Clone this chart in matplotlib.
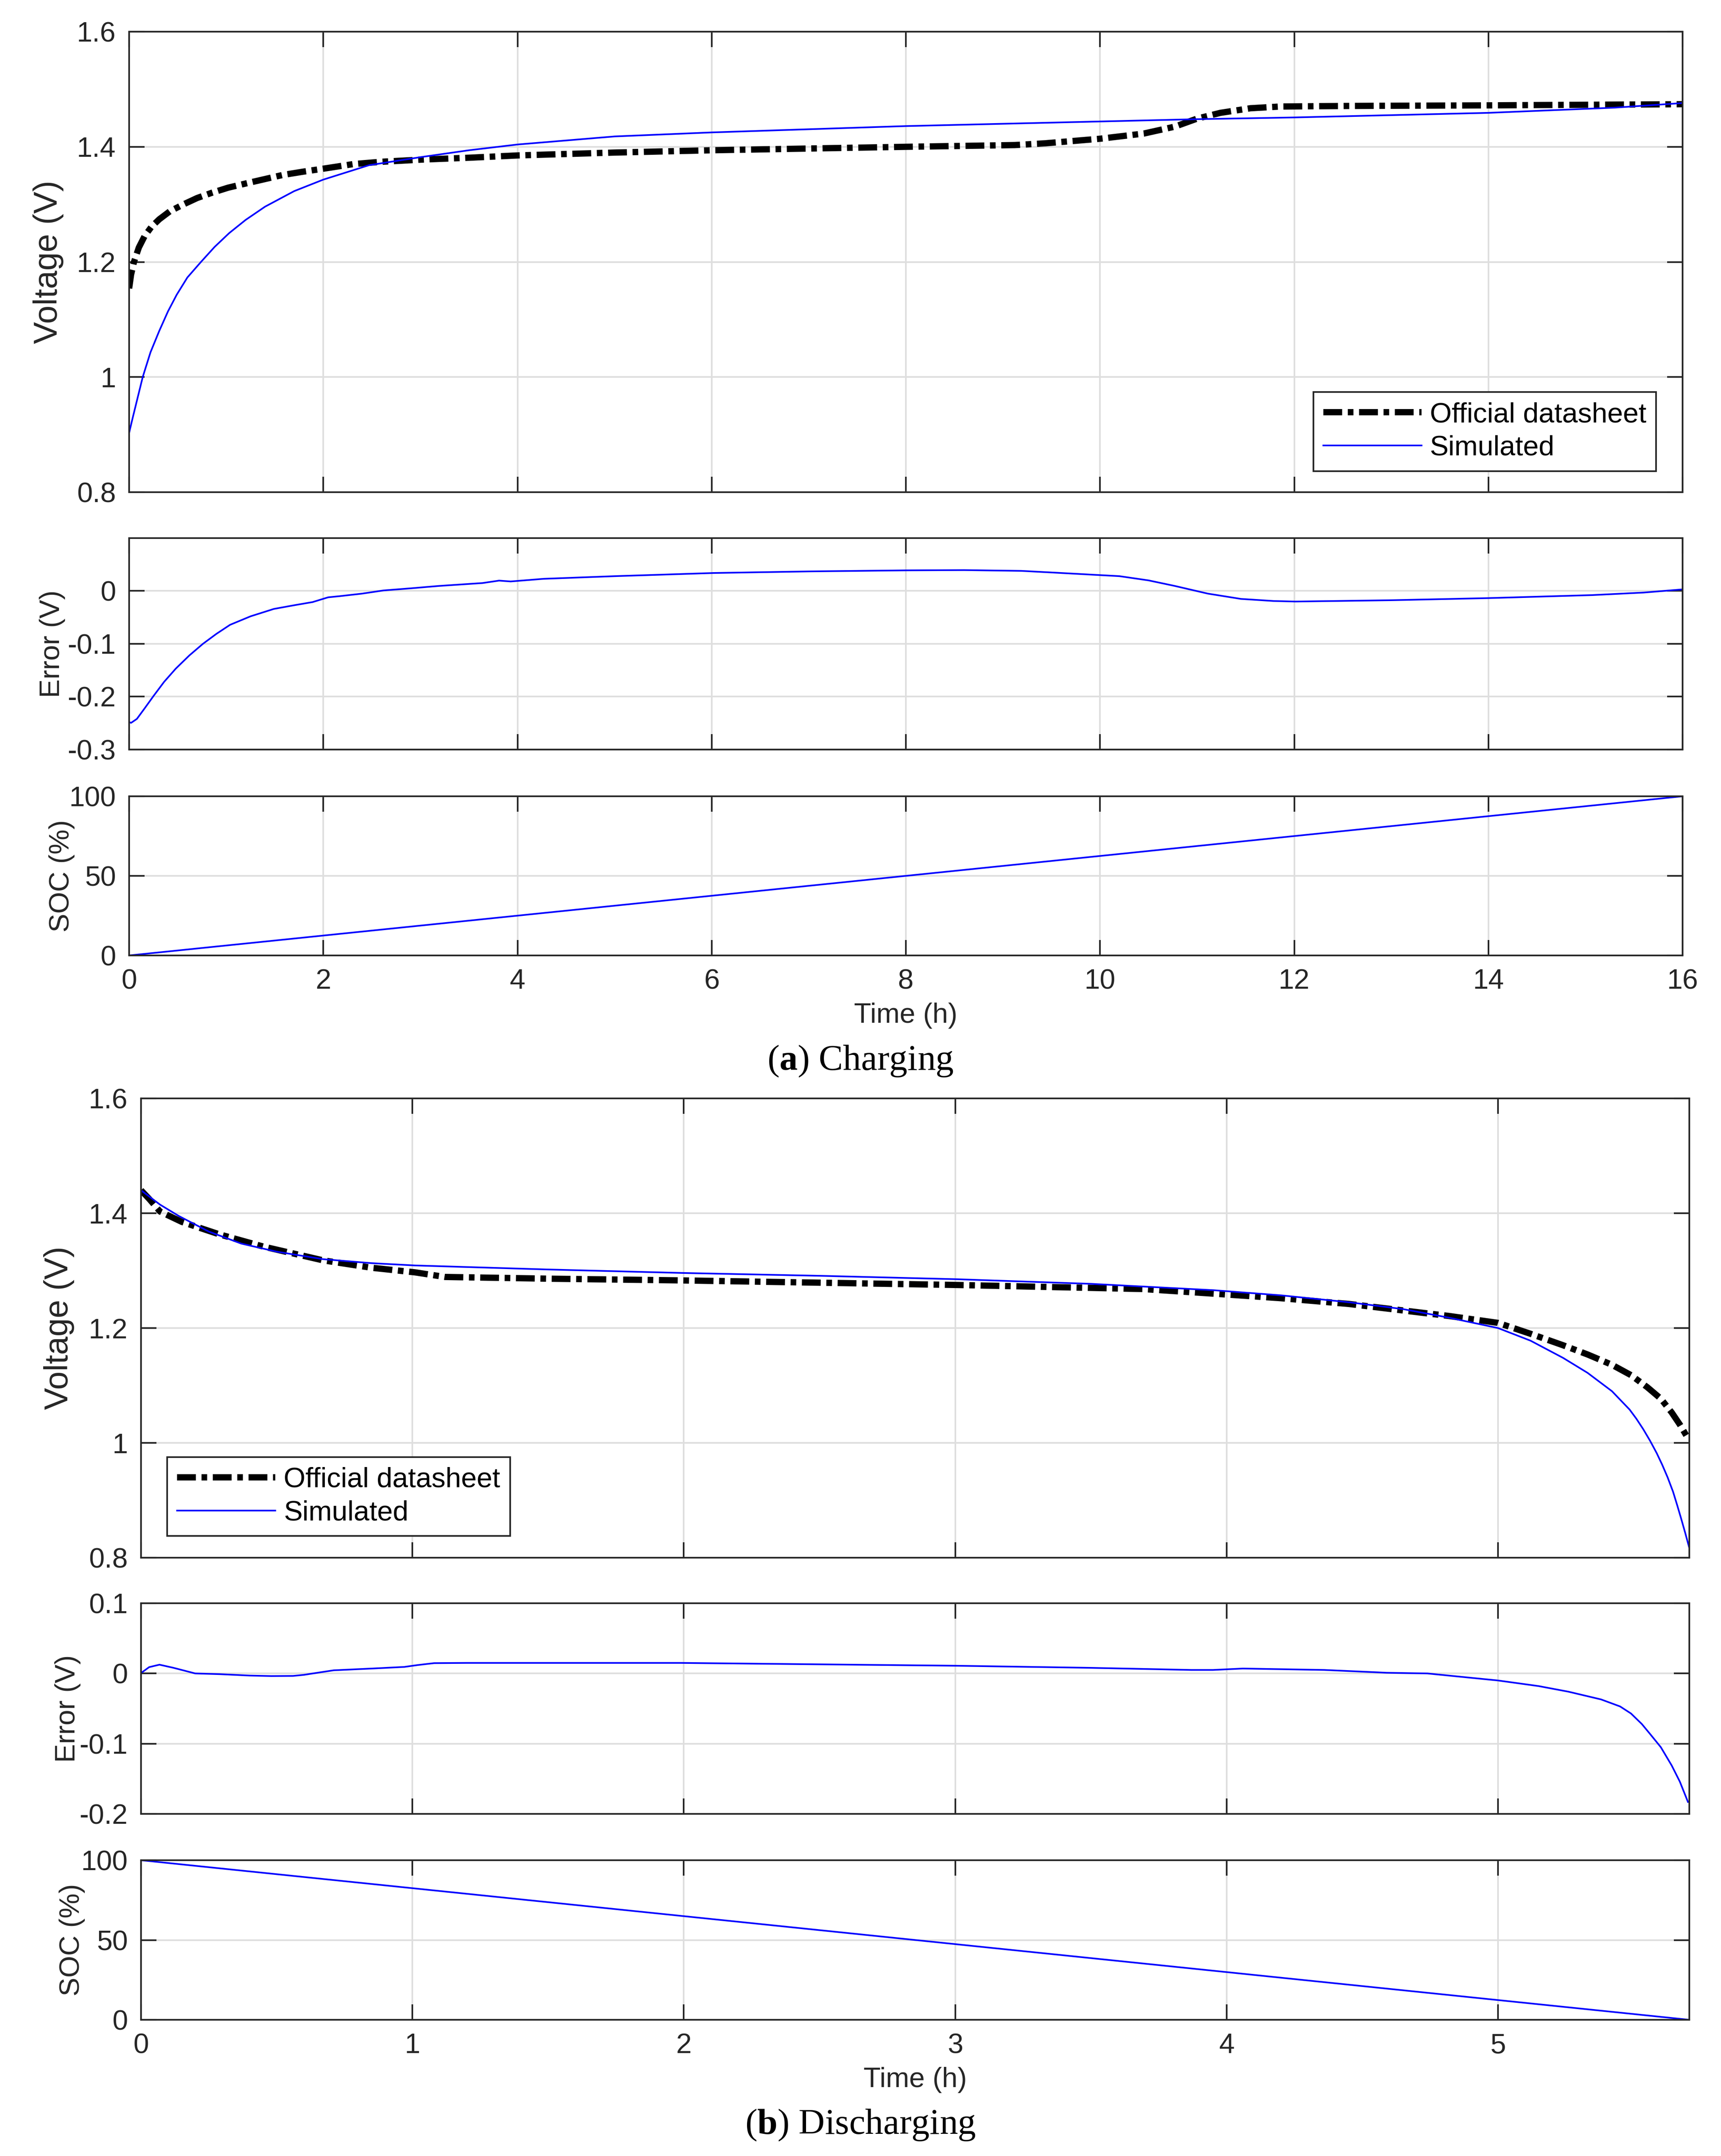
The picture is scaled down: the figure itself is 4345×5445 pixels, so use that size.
import matplotlib
matplotlib.use("Agg")
import matplotlib.pyplot as plt
from matplotlib.ticker import FormatStrFormatter

# ---- charging (a) ----
t_chg_sheet = [0, 0.02, 0.05, 0.1, 0.16, 0.23, 0.31, 0.42, 0.56, 0.7, 0.85, 1.02, 1.22, 1.4, 1.58,
               1.8, 2.0, 2.31, 2.6, 3.04, 3.5, 4.0, 5.0, 6.0, 7.0, 8.0, 9.12, 9.43, 10.0, 10.45,
               10.77, 11.0, 11.24, 11.55, 11.86, 12.56, 14.0, 16.0]
v_chg_sheet = [1.154, 1.178, 1.2, 1.225, 1.245, 1.261, 1.274, 1.288, 1.300, 1.311, 1.320, 1.329,
               1.337, 1.344, 1.351, 1.357, 1.362, 1.370, 1.374, 1.378, 1.381, 1.385, 1.390, 1.394,
               1.397, 1.400, 1.403, 1.406, 1.414, 1.423, 1.435, 1.449, 1.459, 1.467, 1.470,
               1.471, 1.472, 1.474]

t_chg_sim = [0, 0.035, 0.07, 0.14, 0.22, 0.31, 0.4, 0.49, 0.6, 0.74, 0.88, 1.03, 1.2, 1.4, 1.7,
             2.0, 2.47, 3.0, 3.5, 4.0, 5.0, 6.0, 8.0, 10.0, 11.0, 12.0, 13.0, 14.0, 15.3, 16.0]
v_chg_sim = [0.903, 0.928, 0.952, 1.0, 1.043, 1.08, 1.114, 1.143, 1.173, 1.2, 1.226, 1.25,
             1.273, 1.296, 1.323, 1.343, 1.368, 1.382, 1.394, 1.404, 1.418, 1.425, 1.436, 1.444,
             1.448, 1.451, 1.455, 1.459, 1.468, 1.476]

t_chg_err = [0, 0.02, 0.08, 0.16, 0.25, 0.36, 0.48, 0.62, 0.76, 0.9, 1.04, 1.25, 1.49, 1.7, 1.89,
             2.05, 2.17, 2.4, 2.62, 2.9, 3.19, 3.64, 3.81, 3.93, 4.27, 5.0, 6.02, 7.0, 8.0, 8.6,
             9.19, 9.5, 9.75, 10.2, 10.5, 10.77, 11.11, 11.45, 11.79, 12.01, 13.0, 14.0, 15.07,
             15.6, 16.0]
e_chg = [-0.248, -0.2495, -0.242, -0.222, -0.199, -0.172, -0.147, -0.122, -0.100, -0.081, -0.064,
         -0.048, -0.034, -0.027, -0.021, -0.012, -0.0098, -0.005, 0.001, 0.005, 0.0095, 0.015,
         0.0196, 0.018, 0.023, 0.028, 0.034, 0.037, 0.039, 0.0395, 0.038, 0.035, 0.0325, 0.028,
         0.020, 0.0095, -0.005, -0.015, -0.019, -0.020, -0.0175, -0.0135, -0.0078, -0.003, 0.003]

t_chg_soc = [0, 16]
soc_chg = [0, 100]

# ---- discharging (b) ----
t_dis_sheet = [0, 0.03, 0.07, 0.15, 0.29, 0.45, 0.67, 0.85, 1.01, 1.12, 1.5, 1.99, 2.5, 3.01,
               3.69, 3.95, 4.2, 4.45, 4.82, 5.0, 5.12, 5.24, 5.33, 5.42, 5.49, 5.55, 5.6, 5.64,
               5.67, 5.70]
v_dis_sheet = [1.44, 1.425, 1.403, 1.385, 1.363, 1.342, 1.318, 1.305, 1.297, 1.289, 1.286, 1.283,
               1.279, 1.275, 1.268, 1.260, 1.252, 1.242, 1.221, 1.209, 1.19, 1.17, 1.154, 1.136,
               1.118, 1.097, 1.077, 1.053, 1.032, 1.008]

t_dis_sim = [0, 0.07, 0.14, 0.25, 0.37, 0.5, 0.67, 0.85, 1.01, 1.5, 1.99, 2.5, 3.01, 3.5, 3.95,
             4.2, 4.45, 4.65, 4.82, 5.0, 5.12, 5.24, 5.33, 5.42, 5.485, 5.51, 5.535, 5.56, 5.585,
             5.605, 5.625, 5.645, 5.66, 5.675, 5.69, 5.705]
v_dis_sim = [1.44, 1.415, 1.395, 1.368, 1.347, 1.333, 1.32, 1.313, 1.309, 1.302, 1.296, 1.291,
             1.285, 1.277, 1.266, 1.257, 1.245, 1.233, 1.218, 1.2, 1.178, 1.148, 1.122, 1.09,
             1.058, 1.042, 1.024, 1.004, 0.982, 0.962, 0.94, 0.915, 0.892, 0.868, 0.843, 0.817]

t_dis_err = [0, 0.03, 0.068, 0.12, 0.2, 0.29, 0.4, 0.48, 0.56, 0.6, 0.65, 0.71, 0.85, 0.97, 1.02,
             1.08, 1.2, 1.99, 3.0, 3.5, 3.87, 3.95, 4.06, 4.36, 4.59, 4.74, 5.0, 5.15, 5.26, 5.38,
             5.45, 5.49, 5.53, 5.56, 5.6, 5.64, 5.67, 5.70]
e_dis = [0.0006, 0.009, 0.0125, 0.008, 0.0, -0.001, -0.003, -0.0037, -0.0035, -0.002, 0.001,
         0.0045, 0.007, 0.0093, 0.012, 0.0147, 0.015, 0.015, 0.011, 0.008, 0.005, 0.005, 0.007,
         0.005, 0.001, 0.0, -0.010, -0.018, -0.026, -0.037, -0.047, -0.057, -0.072, -0.086,
         -0.105, -0.131, -0.154, -0.183]

t_dis_soc = [0, 5.705]
soc_dis = [100, 0]

W, H = 4345, 5445
DPI = 300
DARK = '#262626'
GRID = '#dedede'
FS = 17

plt.rcParams['font.family'] = ['Liberation Sans', 'DejaVu Sans']
plt.rcParams['font.size'] = FS
plt.rcParams['axes.unicode_minus'] = False
plt.rcParams['mathtext.fontset'] = 'custom'
plt.rcParams['mathtext.rm'] = 'Liberation Serif'
plt.rcParams['mathtext.bf'] = 'Liberation Serif:bold'

fig = plt.figure(figsize=(W / DPI, H / DPI), dpi=DPI)


def rect(l, t, r, b):
    return [l / W, 1 - b / H, (r - l) / W, (b - t) / H]


def style(ax, xlim, xticks, ylim, yticks, show_x):
    ax.set_xlim(*xlim)
    ax.set_ylim(*ylim)
    ax.set_xticks(xticks)
    ax.set_yticks(yticks)
    ax.yaxis.set_major_formatter(FormatStrFormatter('%g'))
    ax.xaxis.set_major_formatter(FormatStrFormatter('%g'))
    ax.grid(True, color=GRID, lw=1.0)
    ax.set_axisbelow(True)
    for s in ax.spines.values():
        s.set_color(DARK)
        s.set_linewidth(1.0)
    ax.tick_params(direction='in', length=9.4, width=1.0, top=True, right=True,
                   color=DARK, labelcolor=DARK, labelsize=FS, pad=8)
    if not show_x:
        ax.tick_params(labelbottom=False)


sheet_style = dict(color='black', lw=3.8, linestyle=(0, (3.0, 0.9, 0.9, 0.9)),
                   solid_capstyle='butt', dash_capstyle='butt')
sim_style = dict(color=(0, 0, 1), lw=1.0)


def panel(tops, left, right, t_sheet, v_sheet, t_sim, v_sim, t_err, err, t_soc, soc,
          xlim, xticks, err_lim, err_ticks, leg_loc, leg_anchor, lab_x):
    (vt, vb), (et, eb), (st, sb) = tops
    axv = fig.add_axes(rect(left, vt, right, vb))
    axv.plot(t_sheet, v_sheet, label='Official datasheet', **sheet_style)
    axv.plot(t_sim, v_sim, label='Simulated', **sim_style)
    style(axv, xlim, xticks, (0.8, 1.6), [0.8, 1.0, 1.2, 1.4, 1.6], False)
    axv.set_ylabel('Voltage (V)', fontsize=20, color=DARK)
    axv.yaxis.set_label_coords(lab_x[0], 0.5)
    leg = axv.legend(loc=leg_loc, bbox_to_anchor=leg_anchor, borderaxespad=0,
                     fontsize=FS, handlelength=3.5, handletextpad=0.3, borderpad=0.35,
                     labelspacing=0.25, fancybox=False, framealpha=1, edgecolor=DARK)
    leg.get_frame().set_linewidth(1.0)

    axe = fig.add_axes(rect(left, et, right, eb))
    axe.plot(t_err, err, **sim_style)
    style(axe, xlim, xticks, err_lim, err_ticks, False)
    axe.set_ylabel('Error (V)', fontsize=FS, color=DARK)
    axe.yaxis.set_label_coords(lab_x[1], 0.5)

    axs = fig.add_axes(rect(left, st, right, sb))
    axs.plot(t_soc, soc, **sim_style)
    style(axs, xlim, xticks, (0, 100), [0, 50, 100], True)
    axs.set_ylabel('SOC (%)', fontsize=FS, color=DARK)
    axs.yaxis.set_label_coords(lab_x[2], 0.5)
    axs.set_xlabel('Time (h)', fontsize=FS, color=DARK)
    axs.xaxis.set_label_coords(0.5, -0.295)


panel(((80, 1243), (1359, 1893), (2011, 2413)), 326, 4248,
      t_chg_sheet, v_chg_sheet, t_chg_sim, v_chg_sim, t_chg_err, e_chg, t_chg_soc, soc_chg,
      (0, 16), list(range(0, 17, 2)), (-0.3, 0.1), [-0.3, -0.2, -0.1, 0],
      'lower right', (0.983, 0.046), (-0.042, -0.041, -0.035))

panel(((2774, 3934), (4049, 4581), (4698, 5101)), 356, 4265,
      t_dis_sheet, v_dis_sheet, t_dis_sim, v_dis_sim, t_dis_err, e_dis, t_dis_soc, soc_dis,
      (0, 5.705), [0, 1, 2, 3, 4, 5], (-0.2, 0.1), [-0.2, -0.1, 0, 0.1],
      'lower left', (0.017, 0.047), (-0.043, -0.039, -0.036))

fig.text(0.5, 1 - 2702 / H, r'($\mathbf{a}$) Charging', family='Liberation Serif',
         fontsize=22, ha='center', va='baseline', color='black')
fig.text(0.5, 1 - 5389 / H, r'($\mathbf{b}$) Discharging', family='Liberation Serif',
         fontsize=22, ha='center', va='baseline', color='black')

fig.savefig('out.png', dpi=DPI)
